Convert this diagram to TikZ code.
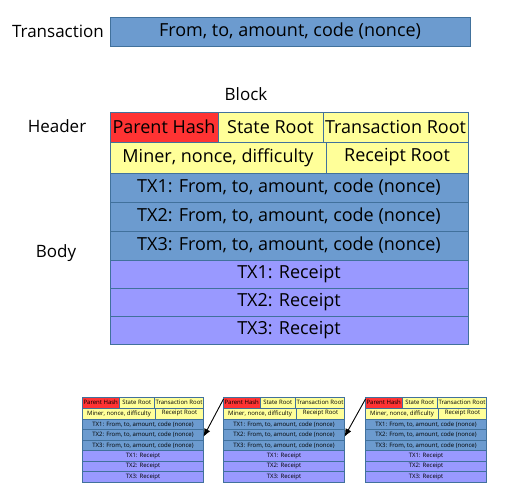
\documentclass[tikz,border=0pt]{standalone}
\usepackage{fontspec}
\setmainfont{Open Sans}
\usetikzlibrary{arrows.meta,positioning}
\definecolor{hashred}{HTML}{FF3333}
\definecolor{headyellow}{HTML}{FFFF99}
\definecolor{txblue}{HTML}{6C9BCF}
\definecolor{rcptpurple}{HTML}{9999FF}
\definecolor{cellline}{HTML}{41719C}

\begin{document}
\begin{tikzpicture}[x=1pt,y=-1pt,
    cell/.style={draw=cellline,line width=0.8pt,anchor=north west,inner sep=0pt,
      outer sep=0pt,align=center,font=\fontsize{18}{21}\selectfont},
    mini/.style={cell,line width=0.5pt,font=\fontsize{6}{7}\selectfont},
    lbl/.style={font=\fontsize{17}{20}\selectfont,inner sep=0pt},
    link/.style={-{Latex[length=2.8mm,width=2.3mm]},line width=0.9pt}
  ]
    \useasboundingbox (0,0) rectangle (508,496);

    % single transaction
    \node[cell,fill=txblue,minimum width=360pt,minimum height=29pt] (txbox)
      at (110,17) {From, to, amount, code (nonce)};
    \node[lbl,left=6pt of txbox] (txlbl) {Transaction};

    % block header
    \node[cell,fill=hashred,minimum width=108pt,minimum height=30pt] (ph)
      at (110,112) {Parent Hash};
    \node[cell,fill=headyellow,minimum width=105pt,minimum height=30pt] (sr)
      at (ph.north east) {State Root};
    \node[cell,fill=headyellow,minimum width=145pt,minimum height=30pt] (trr)
      at (sr.north east) {Transaction Root};
    \node[cell,fill=headyellow,minimum width=216pt,minimum height=31pt] (mnd)
      at (ph.south west) {Miner, nonce, difficulty};
    \node[cell,fill=headyellow,minimum width=142pt,minimum height=31pt] (rr)
      at (mnd.north east) {Receipt Root};

    % block body
    \node[cell,fill=txblue,minimum width=358pt,minimum height=29pt] (tx1)
      at (mnd.south west) {TX1: From, to, amount, code (nonce)};
    \node[cell,fill=txblue,minimum width=358pt,minimum height=29pt] (tx2)
      at (tx1.south west) {TX2: From, to, amount, code (nonce)};
    \node[cell,fill=txblue,minimum width=358pt,minimum height=29pt] (tx3)
      at (tx2.south west) {TX3: From, to, amount, code (nonce)};
    \node[cell,fill=rcptpurple,minimum width=358pt,minimum height=28pt] (rc1)
      at (tx3.south west) {TX1: Receipt};
    \node[cell,fill=rcptpurple,minimum width=358pt,minimum height=28pt] (rc2)
      at (rc1.south west) {TX2: Receipt};
    \node[cell,fill=rcptpurple,minimum width=358pt,minimum height=28pt] (rc3)
      at (rc2.south west) {TX3: Receipt};

    \node[lbl] (blklbl) at (246,94) {Block};
    \node[lbl] (hdrlbl) at (57,126) {Header};
    \node[lbl] (bodylbl) at (56,253) {Body};

    % chain of small blocks
    \foreach \i/\x in {1/82.5,2/223.5,3/365.5} {
      \node[mini,fill=hashred,minimum width=36.5pt,minimum height=11pt] (ph-\i)
        at (\x,397) {Parent Hash};
      \node[mini,fill=headyellow,minimum width=35.5pt,minimum height=11pt] (sr-\i)
        at (ph-\i.north east) {State Root};
      \node[mini,fill=headyellow,minimum width=49pt,minimum height=11pt] (trr-\i)
        at (sr-\i.north east) {Transaction Root};
      \node[mini,fill=headyellow,minimum width=73pt,minimum height=11pt] (mnd-\i)
        at (ph-\i.south west) {Miner, nonce, difficulty};
      \node[mini,fill=headyellow,minimum width=48pt,minimum height=11pt] (rr-\i)
        at (mnd-\i.north east) {Receipt Root};
      \node[mini,fill=txblue,minimum width=121pt,minimum height=10.5pt] (tx1-\i)
        at (mnd-\i.south west) {TX1: From, to, amount, code (nonce)};
      \node[mini,fill=txblue,minimum width=121pt,minimum height=10.5pt] (tx2-\i)
        at (tx1-\i.south west) {TX2: From, to, amount, code (nonce)};
      \node[mini,fill=txblue,minimum width=121pt,minimum height=10.5pt] (tx3-\i)
        at (tx2-\i.south west) {TX3: From, to, amount, code (nonce)};
      \node[mini,fill=rcptpurple,minimum width=121pt,minimum height=10.5pt] (rc1-\i)
        at (tx3-\i.south west) {TX1: Receipt};
      \node[mini,fill=rcptpurple,minimum width=121pt,minimum height=10.5pt] (rc2-\i)
        at (rc1-\i.south west) {TX2: Receipt};
      \node[mini,fill=rcptpurple,minimum width=121pt,minimum height=10.5pt] (rc3-\i)
        at (rc2-\i.south west) {TX3: Receipt};
    }
    \draw[link] ([yshift=-2pt]ph-2.north west) -- ([yshift=-2pt]tx2-1.east);
    \draw[link] ([yshift=-2pt]ph-3.north west) -- ([yshift=-2pt]tx2-2.east);
  \end{tikzpicture}
\end{document}
